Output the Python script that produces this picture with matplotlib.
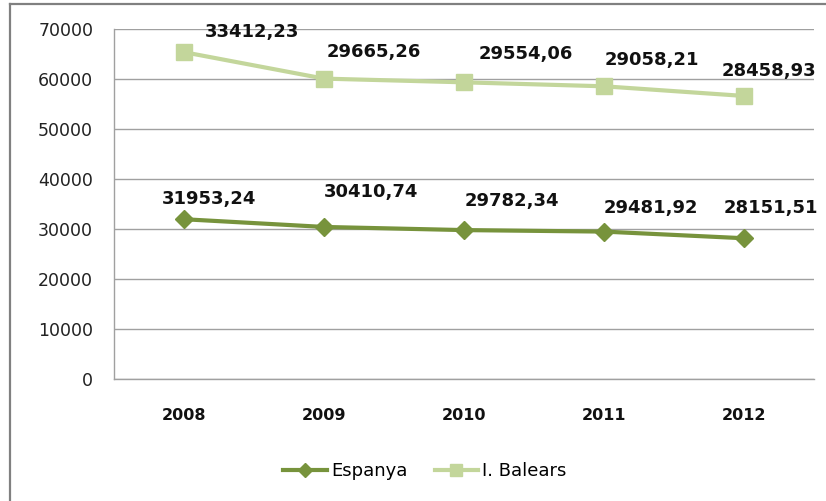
import matplotlib
matplotlib.use("Agg")
import matplotlib.pyplot as plt
from matplotlib.lines import Line2D
import numpy as np

years = ["2008", "2009", "2010", "2011", "2012"]
espanya = [31953.24, 30410.74, 29782.34, 29481.92, 28151.51]
balears = [33412.23, 29665.26, 29554.06, 29058.21, 28458.93]
yticks = [0, 10000, 20000, 30000, 40000, 50000, 60000, 70000]

# label offsets in pixels (style only)
esp_off = [(25, 20), (47, 35), (48, 29), (47, 24), (27, 30)]
bal_off = [(68, 20), (50, 27), (62, 28), (48, 26), (25, 25)]

W, H = 826, 501
fig = plt.figure(figsize=(W / 100, H / 100), dpi=100)
ax = fig.add_axes([114 / W, 1 - 379 / H, 700 / W, 350 / H])

x = np.arange(len(years))
esp = np.array(espanya)
bal_stack = esp + np.array(balears)

c_esp = "#77933C"
c_bal = "#C3D69B"

ax.plot(x, bal_stack, color=c_bal, lw=3, marker="s", ms=12, label="I. Balears", zorder=3)
ax.plot(x, esp, color=c_esp, lw=3, marker="D", ms=9, label="Espanya", zorder=4)

for i in range(len(x)):
    ax.annotate(f"{espanya[i]:.2f}".replace(".", ","), (x[i], esp[i]),
                xytext=esp_off[i], textcoords="offset pixels",
                ha="center", va="center", fontsize=13, fontweight="bold",
                family="DejaVu Sans", color="#111111", zorder=5)
    ax.annotate(f"{balears[i]:.2f}".replace(".", ","), (x[i], bal_stack[i]),
                xytext=bal_off[i], textcoords="offset pixels",
                ha="center", va="center", fontsize=13, fontweight="bold",
                family="DejaVu Sans", color="#111111", zorder=5)

ax.set_xlim(-0.5, len(years) - 0.5)
ax.set_ylim(0, 70000)
ax.set_yticks(yticks)
ax.set_yticklabels([str(v) for v in yticks], fontsize=12.5, color="#222222")
ax.set_xticks(x)
ax.set_xticklabels(years, fontsize=11.5, fontweight="bold", color="#111111")
ax.tick_params(axis="y", length=0, pad=15)
ax.tick_params(axis="x", length=0, pad=21)
ax.yaxis.grid(True, color="#A0A0A0", lw=1)
ax.set_axisbelow(True)
for s in ["top", "right"]:
    ax.spines[s].set_visible(False)
for s in ["left", "bottom"]:
    ax.spines[s].set_color("#A0A0A0")
    ax.spines[s].set_linewidth(1)

h, l = ax.get_legend_handles_labels()
fig.legend(h[::-1], l[::-1], loc="center", bbox_to_anchor=(425 / W, 1 - 471 / H),
           ncol=2, frameon=False, fontsize=13, handlelength=2.4,
           handletextpad=0.25, columnspacing=1.5, markerscale=0.75)

# outer border
fig.add_artist(Line2D([10 / W, 10 / W], [0, 1 - 4 / H], color="#808080", lw=1.6,
                      transform=fig.transFigure))
fig.add_artist(Line2D([10 / W, 1], [1 - 4 / H, 1 - 4 / H], color="#808080", lw=1.6,
                      transform=fig.transFigure))

fig.savefig("out.png", dpi=100)
